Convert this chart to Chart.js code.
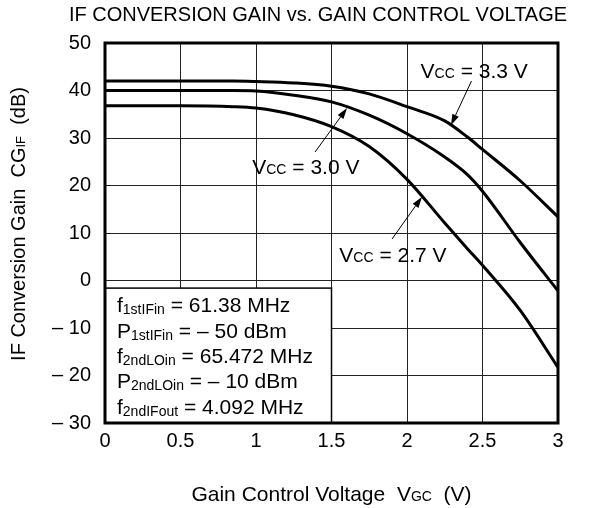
<!DOCTYPE html>
<html><head><meta charset="utf-8">
<script src="https://cdn.jsdelivr.net/npm/chart.js@4/dist/chart.umd.min.js"></script>
<style>html,body{margin:0;padding:0;background:#fff}#wrap{width:600px;height:508px;position:relative}</style>
</head><body><div id="wrap"><canvas id="c" width="600" height="508"></canvas></div>
<script>
// ---- data ----
const vgc = [0, 0.5, 0.85, 1.0, 1.25, 1.5, 1.75, 2.0, 2.25, 2.4, 2.5, 2.75, 3.0];
const cg33 = [42.0, 42.0, 42.0, 41.9, 41.6, 40.9, 39.3, 36.6, 33.6, 30.2, 27.6, 21.0, 13.4];
const cg30 = [40.0, 40.0, 40.0, 39.9, 39.0, 37.6, 34.8, 30.9, 26.0, 22.3, 18.8, 8.0, -2.2];
const cg27 = [36.8, 36.8, 36.6, 36.3, 34.9, 32.4, 28.2, 21.3, 12.1, 6.7, 3.2, -6.3, -18.3];
const xTicks = [0, 0.5, 1, 1.5, 2, 2.5, 3];
const yTicks = [-30, -20, -10, 0, 10, 20, 30, 40, 50];
const seriesLabels = ['3.3 V', '3.0 V', '2.7 V'];
const titleText = 'IF CONVERSION GAIN vs. GAIN CONTROL VOLTAGE';
const xTitle = [['Gain Control Voltage  V', 0], ['GC', 1], ['  (V)', 0]];
const yTitle = [['IF Conversion Gain  CG', 0], ['IF', 1], ['  (dB)', 0]];
const condLines = [
  [['f', 0], ['1stIFin', 1], [' = 61.38 MHz', 0]],
  [['P', 0], ['1stIFin', 1], [' = \u2013 50 dBm', 0]],
  [['f', 0], ['2ndLOin', 1], [' = 65.472 MHz', 0]],
  [['P', 0], ['2ndLOin', 1], [' = \u2013 10 dBm', 0]],
  [['f', 0], ['2ndIFout', 1], [' = 4.092 MHz', 0]]
];

// ---- annotation placement (data coordinates) ----
const notes = [
  {label: seriesLabels[0], x: 2.09, y: 44.3, tail: [2.427, 42.0], tip: [2.291, 32.7]},
  {label: seriesLabels[1], x: 0.975, y: 23.9, tail: [1.391, 27.05], tip: [1.603, 36.3]},
  {label: seriesLabels[2], x: 1.552, y: 5.4, tail: [1.901, 8.74], tip: [2.099, 17.6]}
];
const condBox = {x0: 0, x1: 1.5, y0: -1.6, y1: -30};

const FONT = '"Liberation Sans", Arial, Helvetica, sans-serif';

function richWidth(ctx, parts, size, subSize) {
  let w = 0;
  for (const [t, s] of parts) { ctx.font = (s ? subSize : size) + 'px ' + FONT; w += ctx.measureText(t).width; }
  return w;
}
function drawRich(ctx, parts, x, y, align, size, subSize, subDrop) {
  const w = richWidth(ctx, parts, size, subSize);
  let cx = align === 'center' ? x - w / 2 : x;
  ctx.textAlign = 'left';
  ctx.textBaseline = 'alphabetic';
  for (const [t, s] of parts) {
    ctx.font = (s ? subSize : size) + 'px ' + FONT;
    ctx.fillText(t, cx, y + (s ? subDrop : 0));
    cx += ctx.measureText(t).width;
  }
}
function arrow(ctx, x0, y0, x1, y1) {
  ctx.save();
  ctx.strokeStyle = '#000'; ctx.fillStyle = '#000'; ctx.lineWidth = 1;
  const a = Math.atan2(y1 - y0, x1 - x0), L = 11, W = 3.5;
  const bx = x1 - L * Math.cos(a), by = y1 - L * Math.sin(a);
  ctx.beginPath(); ctx.moveTo(x0, y0); ctx.lineTo(bx, by); ctx.stroke();
  ctx.beginPath(); ctx.moveTo(x1, y1);
  ctx.lineTo(bx + W * Math.sin(a), by - W * Math.cos(a));
  ctx.lineTo(bx - W * Math.sin(a), by + W * Math.cos(a));
  ctx.closePath(); ctx.fill();
  ctx.restore();
}

const decor = {
  id: 'decor',
  afterDatasetsDraw(chart) {
    const ctx = chart.ctx, xs = chart.scales.x, ys = chart.scales.y, ca = chart.chartArea;
    ctx.save();
    // conditions box
    const bl = xs.getPixelForValue(condBox.x0), br = xs.getPixelForValue(condBox.x1);
    const bt = ys.getPixelForValue(condBox.y0), bb = ys.getPixelForValue(condBox.y1);
    ctx.fillStyle = '#fff'; ctx.fillRect(bl, bt, br - bl, bb - bt);
    ctx.strokeStyle = '#000'; ctx.lineWidth = 1.5; ctx.strokeRect(bl, bt, br - bl, bb - bt);
    ctx.fillStyle = '#000';
    condLines.forEach((ln, i) => drawRich(ctx, ln, bl + 12, bt + 24 + i * 25.4, 'left', 21, 14, 2));
    // border
    ctx.lineWidth = 3; ctx.strokeStyle = '#000';
    ctx.strokeRect(ca.left, ca.top, ca.right - ca.left, ca.bottom - ca.top);
    // annotations
    for (const n of notes) {
      const px = xs.getPixelForValue(n.x), py = ys.getPixelForValue(n.y);
      drawRich(ctx, [['V', 0], ['CC', 1], [' = ' + n.label, 0]], px, py + 7.5, 'left', 21, 14, 0);
      arrow(ctx, xs.getPixelForValue(n.tail[0]), ys.getPixelForValue(n.tail[1]),
                 xs.getPixelForValue(n.tip[0]), ys.getPixelForValue(n.tip[1]));
    }
    // titles
    ctx.font = '20px ' + FONT; ctx.textAlign = 'center'; ctx.textBaseline = 'middle';
    ctx.fillText(titleText, 318, 15);
    drawRich(ctx, xTitle, (ca.left + ca.right) / 2, 501, 'center', 21, 14, 0);
    ctx.translate(25, 224); ctx.rotate(-Math.PI / 2);
    drawRich(ctx, yTitle, 0, 0, 'center', 20, 13, 0);
    ctx.restore();
  }
};

const mk = (vals) => vgc.map((x, i) => ({x, y: vals[i]}));
const ds = (label, vals) => ({label, data: mk(vals), borderColor: '#000', borderWidth: 3,
  pointRadius: 0, fill: false, cubicInterpolationMode: 'monotone'});

new Chart(document.getElementById('c'), {
  type: 'line',
  data: {datasets: [ds(seriesLabels[0], cg33), ds(seriesLabels[1], cg30), ds(seriesLabels[2], cg27)]},
  options: {
    responsive: false, animation: false, events: [],
    layout: {padding: {left: 0, top: 43, right: 42, bottom: 0}},
    plugins: {legend: {display: false}, title: {display: false}, tooltip: {enabled: false}},
    scales: {
      x: {type: 'linear', min: 0, max: 3,
        afterBuildTicks: s => { s.ticks = xTicks.map(v => ({value: v})); },
        afterFit: s => { s.height = 85; },
        grid: {color: '#222', lineWidth: 1, drawTicks: false},
        border: {display: false},
        ticks: {color: '#000', padding: 6, font: {family: FONT, size: 20}, maxRotation: 0,
          callback: v => String(v)}},
      y: {type: 'linear', min: -30, max: 50,
        afterBuildTicks: s => { s.ticks = yTicks.map(v => ({value: v})); },
        afterFit: s => { s.width = 105; },
        grid: {color: '#222', lineWidth: 1, drawTicks: false},
        border: {display: false},
        ticks: {color: '#000', padding: 14, font: {family: FONT, size: 20},
          callback: v => v < 0 ? '\u2013 ' + Math.abs(v) : String(v)}}
    }
  },
  plugins: [decor]
});
</script></body></html>
